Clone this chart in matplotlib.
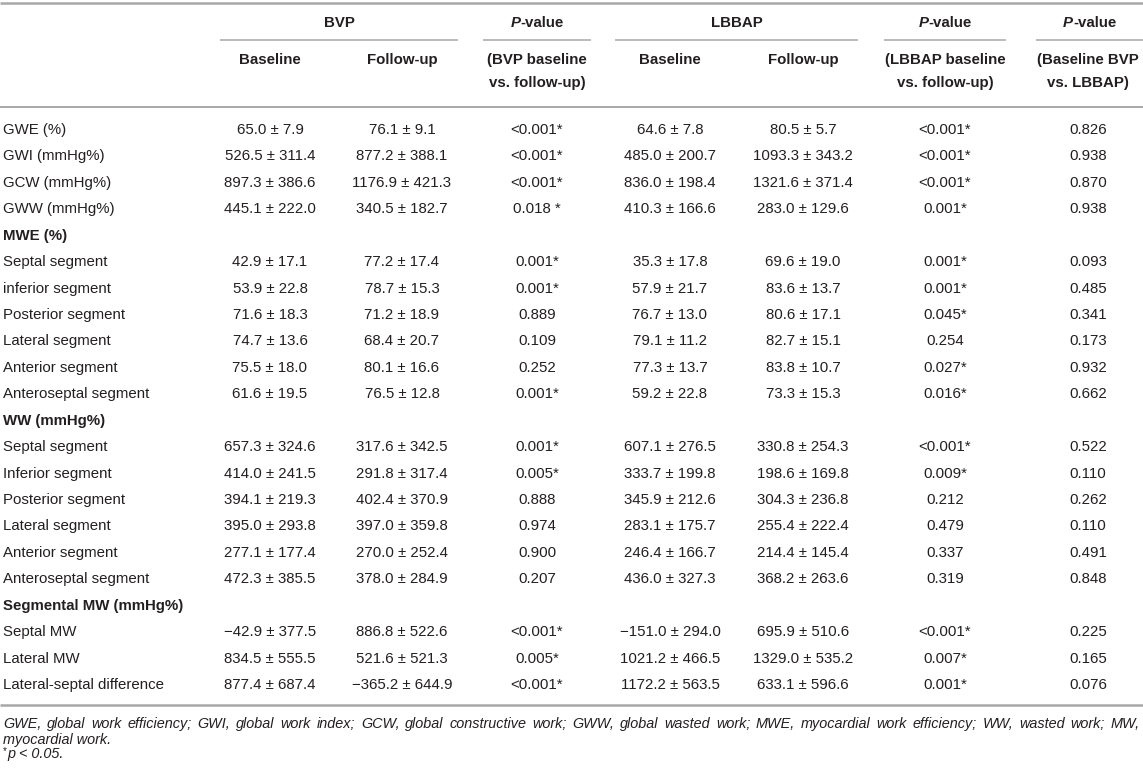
import matplotlib
matplotlib.use("Agg")
import matplotlib.pyplot as plt

plt.rcParams['font.family'] = ['Liberation Sans', 'DejaVu Sans']

# ---------------- data ----------------
row_labels = ["GWE (%)", "GWI (mmHg%)", "GCW (mmHg%)", "GWW (mmHg%)", "MWE (%)",
              "Septal segment", "inferior segment", "Posterior segment", "Lateral segment",
              "Anterior segment", "Anteroseptal segment", "WW (mmHg%)",
              "Septal segment", "Inferior segment", "Posterior segment", "Lateral segment",
              "Anterior segment", "Anteroseptal segment", "Segmental MW (mmHg%)",
              "Septal MW", "Lateral MW", "Lateral-septal difference"]
section_rows = [4, 11, 18]

bvp_baseline = ["65.0 ± 7.9", "526.5 ± 311.4", "897.3 ± 386.6", "445.1 ± 222.0", "",
                "42.9 ± 17.1", "53.9 ± 22.8", "71.6 ± 18.3", "74.7 ± 13.6", "75.5 ± 18.0", "61.6 ± 19.5", "",
                "657.3 ± 324.6", "414.0 ± 241.5", "394.1 ± 219.3", "395.0 ± 293.8", "277.1 ± 177.4", "472.3 ± 385.5", "",
                "−42.9 ± 377.5", "834.5 ± 555.5", "877.4 ± 687.4"]
bvp_followup = ["76.1 ± 9.1", "877.2 ± 388.1", "1176.9 ± 421.3", "340.5 ± 182.7", "",
                "77.2 ± 17.4", "78.7 ± 15.3", "71.2 ± 18.9", "68.4 ± 20.7", "80.1 ± 16.6", "76.5 ± 12.8", "",
                "317.6 ± 342.5", "291.8 ± 317.4", "402.4 ± 370.9", "397.0 ± 359.8", "270.0 ± 252.4", "378.0 ± 284.9", "",
                "886.8 ± 522.6", "521.6 ± 521.3", "−365.2 ± 644.9"]
p_bvp = ["<0.001*", "<0.001*", "<0.001*", "0.018 *", "",
         "0.001*", "0.001*", "0.889", "0.109", "0.252", "0.001*", "",
         "0.001*", "0.005*", "0.888", "0.974", "0.900", "0.207", "",
         "<0.001*", "0.005*", "<0.001*"]
lbbap_baseline = ["64.6 ± 7.8", "485.0 ± 200.7", "836.0 ± 198.4", "410.3 ± 166.6", "",
                  "35.3 ± 17.8", "57.9 ± 21.7", "76.7 ± 13.0", "79.1 ± 11.2", "77.3 ± 13.7", "59.2 ± 22.8", "",
                  "607.1 ± 276.5", "333.7 ± 199.8", "345.9 ± 212.6", "283.1 ± 175.7", "246.4 ± 166.7", "436.0 ± 327.3", "",
                  "−151.0 ± 294.0", "1021.2 ± 466.5", "1172.2 ± 563.5"]
lbbap_followup = ["80.5 ± 5.7", "1093.3 ± 343.2", "1321.6 ± 371.4", "283.0 ± 129.6", "",
                  "69.6 ± 19.0", "83.6 ± 13.7", "80.6 ± 17.1", "82.7 ± 15.1", "83.8 ± 10.7", "73.3 ± 15.3", "",
                  "330.8 ± 254.3", "198.6 ± 169.8", "304.3 ± 236.8", "255.4 ± 222.4", "214.4 ± 145.4", "368.2 ± 263.6", "",
                  "695.9 ± 510.6", "1329.0 ± 535.2", "633.1 ± 596.6"]
p_lbbap = ["<0.001*", "<0.001*", "<0.001*", "0.001*", "",
           "0.001*", "0.001*", "0.045*", "0.254", "0.027*", "0.016*", "",
           "<0.001*", "0.009*", "0.212", "0.479", "0.337", "0.319", "",
           "<0.001*", "0.007*", "0.001*"]
p_between = ["0.826", "0.938", "0.870", "0.938", "",
             "0.093", "0.485", "0.341", "0.173", "0.932", "0.662", "",
             "0.522", "0.110", "0.262", "0.110", "0.491", "0.848", "",
             "0.225", "0.165", "0.076"]

group_headers = ["BVP", "LBBAP"]
sub_headers = ["Baseline", "Follow-up"]
p_sub1 = ["(BVP baseline", "(LBBAP baseline", "(Baseline BVP"]
p_sub2 = ["vs. follow-up)", "vs. follow-up)", "vs. LBBAP)"]
footnote_line1 = ("GWE, global work efficiency; GWI, global work index; GCW, global constructive work; "
                  "GWW, global wasted work; MWE, myocardial work efficiency; WW, wasted work; MW,")
footnote_line2 = "myocardial work."
footnote_line3 = "p < 0.05."

# ---------------- layout ----------------
W, H = 1143, 773
fig = plt.figure(figsize=(W / 100, H / 100), dpi=100)
ax = fig.add_axes([0, 0, 1, 1])
ax.set_xlim(0, W)
ax.set_ylim(H, 0)
ax.axis('off')

TXT = '#231f20'
RULE = '#a8a8a8'
FS = 10.8

col_x = [270, 402, 537, 670, 803, 945, 1088]
row_y0, row_dy = 130, 26.43

# rules
ax.plot([0, W], [3, 3], color=RULE, lw=1.8, solid_capstyle='butt')
ax.plot([0, W], [107, 107], color=RULE, lw=1.4, solid_capstyle='butt')
ax.plot([0, W], [705, 705], color=RULE, lw=1.8, solid_capstyle='butt')
underlines = [(220, 458), (483, 591), (615, 858), (884, 1006), (1036, 1143)]
for x0, x1 in underlines:
    ax.plot([x0, x1], [40, 40], color=RULE, lw=1.1, solid_capstyle='butt')

fig.canvas.draw()
renderer = fig.canvas.get_renderer()


def width_of(t):
    return t.get_window_extent(renderer=renderer).width


# group headers
ax.text((220 + 458) / 2, 23, group_headers[0], ha='center', va='center', fontsize=FS,
        fontweight='bold', color=TXT)
ax.text((615 + 858) / 2, 23, group_headers[1], ha='center', va='center', fontsize=FS,
        fontweight='bold', color=TXT)


def p_value_header(cx, cy):
    t1 = ax.text(0, cy, "P", ha='left', va='center', fontsize=FS, fontweight='bold',
                 fontstyle='italic', color=TXT)
    t2 = ax.text(0, cy, "-value", ha='left', va='center', fontsize=FS, fontweight='bold',
                 color=TXT)
    w1, w2 = width_of(t1), width_of(t2)
    x0 = cx - (w1 + w2) / 2
    t1.set_x(x0)
    t2.set_x(x0 + w1)


for cx in [(483 + 591) / 2, (884 + 1006) / 2, (1036 + 1143) / 2]:
    p_value_header(cx, 23)

for i, cx in enumerate([col_x[0], col_x[1], col_x[3], col_x[4]]):
    ax.text(cx, 60, sub_headers[i % 2], ha='center', va='center', fontsize=FS,
            fontweight='bold', color=TXT)
for i, cx in enumerate([col_x[2], col_x[5], col_x[6]]):
    ax.text(cx, 60, p_sub1[i], ha='center', va='center', fontsize=FS, fontweight='bold', color=TXT)
    ax.text(cx, 83, p_sub2[i], ha='center', va='center', fontsize=FS, fontweight='bold', color=TXT)

# body
columns = [bvp_baseline, bvp_followup, p_bvp, lbbap_baseline, lbbap_followup, p_lbbap, p_between]
for r, label in enumerate(row_labels):
    y = row_y0 + r * row_dy
    ax.text(3, y, label, ha='left', va='center', fontsize=FS, color=TXT,
            fontweight='bold' if r in section_rows else 'normal')
    for c, col in enumerate(columns):
        if col[r]:
            ax.text(col_x[c], y, col[r], ha='center', va='center', fontsize=FS, color=TXT)

# footnotes (first line justified)
FFS = 10.4
words = footnote_line1.split(' ')
texts = [ax.text(0, 724, w, ha='left', va='center', fontsize=FFS, fontstyle='italic', color=TXT)
         for w in words]
widths = [width_of(t) for t in texts]
left, right = 3, 1140
gap = (right - left - sum(widths)) / (len(words) - 1)
x = left
for t, w in zip(texts, widths):
    t.set_x(x)
    x += w + gap

ax.text(3, 740, footnote_line2, ha='left', va='center', fontsize=FFS, fontstyle='italic', color=TXT)
st = ax.text(3, 751, "*", ha='left', va='center', fontsize=7, color=TXT)
ax.text(3 + width_of(st), 754, footnote_line3, ha='left', va='center', fontsize=FFS,
        fontstyle='italic', color=TXT)

fig.savefig("out.png", dpi=100)
